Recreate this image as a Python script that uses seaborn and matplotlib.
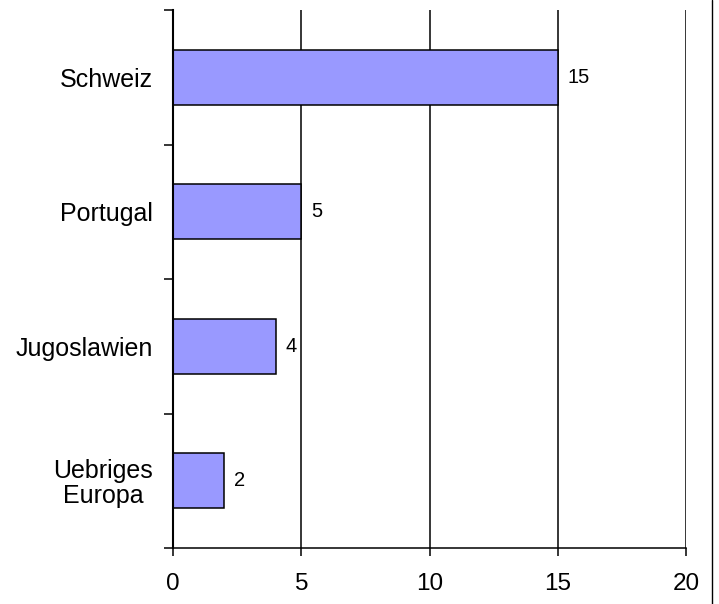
import numpy as np
import seaborn as sns
import matplotlib.pyplot as plt
from matplotlib.lines import Line2D

#data
categories = ['Schweiz', 'Portugal', 'Jugoslawien', 'Uebriges\nEuropa']
values = [15, 5, 4, 2]
x_ticks = [0, 5, 10, 15, 20]

sns.set_theme(style='white')
plt.rcParams['font.family'] = ['Liberation Sans', 'DejaVu Sans']
plt.rcParams['text.color'] = 'black'
plt.rcParams['xtick.color'] = 'black'
plt.rcParams['ytick.color'] = 'black'

fig = plt.figure(figsize=(7.19, 6.04), dpi=100)
ax = fig.add_axes([173/719, 1 - 548/604, (686 - 173)/719, (548 - 10)/604])

sns.barplot(x=values, y=categories, orient='h', color='#9999FF', saturation=1,
            edgecolor='black', linewidth=1.1, width=0.41, ax=ax)

#value labels right of each bar
for i, v in enumerate(values):
    ax.text(v + 0.38, i, str(v), va='center', ha='left', fontsize=14.5, color='black')

ax.set_xlim(0, 20)
ax.set_ylim(len(categories) - 0.5, -0.5)
ax.set_xticks(x_ticks)
ax.set_xticklabels([str(t) for t in x_ticks], fontsize=17.5)
ax.set_xlabel('')
ax.set_ylabel('')

#gridlines
ax.set_axisbelow(True)
ax.xaxis.grid(True, color='black', linewidth=1.1)
ax.yaxis.grid(False)

for s in ['top', 'right']:
    ax.spines[s].set_visible(False)
ax.spines['left'].set_color('black')
ax.spines['left'].set_linewidth(1.5)
ax.spines['bottom'].set_color('black')
ax.spines['bottom'].set_linewidth(1.1)

#category tick marks between bars
ax.set_yticks(np.arange(-0.5, len(categories), 1.0), minor=True)
ax.tick_params(axis='y', which='minor', left=True, length=6.3, width=1.1, color='black')
ax.tick_params(axis='y', which='major', left=False, length=0, pad=14.4, labelsize=18)
for lab in ax.get_yticklabels():
    lab.set_horizontalalignment('right')
    lab.set_multialignment('center')
    lab.set_linespacing(1.05)
ax.tick_params(axis='x', which='major', bottom=True, length=6, width=1.1, color='black', pad=12)

fig.add_artist(Line2D([712/719, 712/719], [0, 1], color='black', linewidth=1))

fig.savefig('out.png', dpi=100)
